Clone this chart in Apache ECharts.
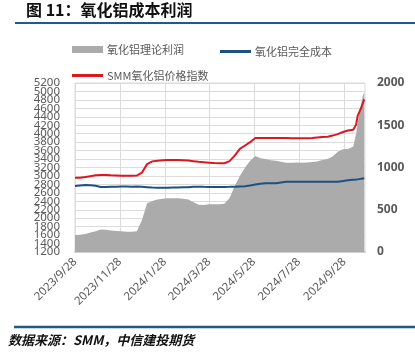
<!DOCTYPE html>
<html>
<head>
<meta charset="utf-8">
<script src="https://cdn.jsdelivr.net/npm/echarts@6/dist/echarts.min.js"></script>
<style>
  html, body { margin: 0; padding: 0; background: #fff; }
  #main { width: 415px; height: 353px; }
</style>
</head>
<body>
<div id="main"></div>
<script>
const dates = [
  '2023-09-28', '2023-10-05', '2023-10-12', '2023-10-19', '2023-10-26', '2023-11-02', '2023-11-09', '2023-11-16',
  '2023-11-23', '2023-11-30', '2023-12-07', '2023-12-14', '2023-12-21', '2023-12-28', '2024-01-04', '2024-01-11',
  '2024-01-18', '2024-01-25', '2024-02-01', '2024-02-08', '2024-02-15', '2024-02-22', '2024-02-29', '2024-03-07',
  '2024-03-14', '2024-03-21', '2024-03-28', '2024-04-04', '2024-04-11', '2024-04-18', '2024-04-25', '2024-05-02',
  '2024-05-09', '2024-05-16', '2024-05-23', '2024-05-30', '2024-06-06', '2024-06-13', '2024-06-20', '2024-06-27',
  '2024-07-04', '2024-07-11', '2024-07-18', '2024-07-25', '2024-08-01', '2024-08-08', '2024-08-15', '2024-08-22',
  '2024-08-29', '2024-09-05', '2024-09-12', '2024-09-19', '2024-09-26', '2024-10-03', '2024-10-10', '2024-10-14',
  '2024-10-16', '2024-10-18', '2024-10-21', '2024-10-23', '2024-10-25'
];
// SMM氧化铝价格指数 (左轴)
const price = [
  2955, 2960, 2975, 2995, 3015, 3025, 3025, 3015, 3010, 3005, 3005, 3005, 3010, 3080, 3280, 3345,
  3360, 3370, 3375, 3375, 3375, 3370, 3365, 3350, 3335, 3325, 3315, 3305, 3300, 3300, 3350, 3480,
  3640, 3720, 3800, 3900, 3900, 3900, 3900, 3898, 3897, 3897, 3895, 3895, 3895, 3895, 3900, 3910,
  3920, 3930, 3955, 3990, 4040, 4075, 4095, 4220, 4420, 4500, 4620, 4720, 4810
];
// 氧化铝完全成本 (左轴)
const cost = [
  2765, 2775, 2785, 2780, 2770, 2740, 2740, 2745, 2745, 2748, 2750, 2745, 2748, 2745, 2735, 2725,
  2722, 2722, 2722, 2725, 2725, 2730, 2730, 2745, 2745, 2742, 2740, 2740, 2740, 2740, 2742, 2745,
  2750, 2755, 2775, 2795, 2815, 2825, 2830, 2830, 2845, 2860, 2862, 2862, 2862, 2862, 2862, 2862,
  2862, 2862, 2862, 2862, 2880, 2900, 2910, 2915, 2920, 2925, 2935, 2940, 2945
];
// 氧化铝理论利润 (右轴)
const profit = [
  200, 205, 213, 230, 245, 265, 262, 255, 250, 245, 240, 240, 245, 380, 576, 605,
  620, 630, 635, 635, 635, 630, 622, 590, 560, 555, 565, 565, 565, 570, 640, 780,
  900, 1000, 1080, 1135, 1110, 1100, 1085, 1080, 1068, 1055, 1055, 1060, 1055, 1058, 1065, 1070,
  1090, 1100, 1130, 1185, 1215, 1220, 1250, 1400, 1520, 1640, 1760, 1850, 1890
];
const tickDates = ['2023-09-28', '2023-11-28', '2024-01-28', '2024-03-28', '2024-05-28', '2024-07-28', '2024-09-28'];
// left axis labels are packed so tight they overlap, so they are split over two stacked label sets
const leftTicksA = [1200, 1600, 2000, 2400, 2800, 3200, 3600, 4000, 4400, 4800, 5200];
const leftTicksB = [1400, 1800, 2200, 2600, 3000, 3400, 3800, 4200, 4600, 5000];
const startDate = '2023-09-28';
const endDate = '2024-10-26';

// x axis is "days since startDate", labels turned back into dates
const DAY = 86400000;
const toMs = (s) => { const p = s.split('-').map(Number); return Date.UTC(p[0], p[1] - 1, p[2]); };
const toDay = (s) => Math.round((toMs(s) - toMs(startDate)) / DAY);
const fmtDay = (v) => {
  const d = new Date(toMs(startDate) + v * DAY);
  return d.getUTCFullYear() + '/' + (d.getUTCMonth() + 1) + '/' + d.getUTCDate();
};
const pair = (arr) => dates.map((d, i) => [toDay(d), arr[i]]);
const tickDays = tickDates.map(toDay);
const gray = '#595959';
const plain = (v) => String(v);

const legendBase = (left, top, h, name) => ({
  left: left, top: top, padding: 0,
  itemWidth: 31, itemHeight: h,
  icon: 'rect',
  textStyle: { fontSize: 11, color: gray, fontFamily: 'Noto Sans CJK SC', padding: [0, 0, 0, -1] },
  data: [name]
});

const leftAxis = (ticks, split) => ({
  type: 'value',
  position: 'left',
  min: 1200, max: 5200, interval: 200,
  axisLine: { show: false },
  axisTick: { show: false },
  splitLine: { show: split, lineStyle: { color: '#dcdcdc', width: 1 } },
  axisLabel: { customValues: ticks, fontSize: 11.5, color: gray, margin: 15,
    showMinLabel: true, showMaxLabel: true, formatter: plain }
});

const chart = echarts.init(document.getElementById('main'), null, { renderer: 'canvas' });

const option = {
  animation: false,
  textStyle: { fontFamily: 'Noto Sans, Noto Sans CJK SC, sans-serif' },
  legend: [
    legendBase(72, 44, 7, '氧化铝理论利润'),
    legendBase(220, 46, 3, '氧化铝完全成本'),
    legendBase(72, 70, 3, 'SMM氧化铝价格指数')
  ],
  grid: { left: 75, right: 50, top: 83, bottom: 101, containLabel: false, outerBoundsMode: 'none',
    show: true, borderColor: '#d9d9d9', borderWidth: 1 },
  xAxis: {
    type: 'value',
    min: 0,
    max: toDay(endDate),
    axisLine: { show: true, onZero: false, lineStyle: { color: '#d0d0d0', width: 2 } },
    axisTick: { show: false, customValues: tickDays },
    splitLine: { show: true, lineStyle: { color: '#dcdcdc', width: 1 } },
    axisLabel: {
      customValues: tickDays,
      rotate: 45,
      margin: 8,
      fontSize: 11.5,
      color: gray,
      formatter: fmtDay
    }
  },
  yAxis: [
    leftAxis(leftTicksA, true),
    {
      type: 'value',
      position: 'right',
      min: 0, max: 2000, interval: 500,
      axisLine: { show: false },
      axisTick: { show: false },
      splitLine: { show: false },
      axisLabel: { fontSize: 12, color: gray, fontWeight: 'bold', margin: 12, align: 'left',
        showMinLabel: true, showMaxLabel: true, formatter: plain }
    },
    leftAxis(leftTicksB, false)
  ],
  series: [
    {
      name: '氧化铝理论利润',
      type: 'line',
      yAxisIndex: 1,
      data: pair(profit),
      symbol: 'none',
      lineStyle: { width: 0, color: '#ababab' },
      itemStyle: { color: '#ababab' },
      areaStyle: { color: '#ababab', opacity: 1 },
      z: 1
    },
    {
      name: '氧化铝完全成本',
      type: 'line',
      yAxisIndex: 0,
      data: pair(cost),
      symbol: 'none',
      lineStyle: { width: 2, color: '#1d5182' },
      itemStyle: { color: '#1d5182' },
      z: 3
    },
    {
      name: 'SMM氧化铝价格指数',
      type: 'line',
      yAxisIndex: 0,
      data: pair(price),
      symbol: 'none',
      lineStyle: { width: 2, color: '#dc1720' },
      itemStyle: { color: '#dc1720' },
      z: 4
    }
  ],
  graphic: [
    {
      type: 'text', left: 26, top: 2,
      style: { text: '图 11：氧化铝成本利润', font: 'bold 16px "Noto Sans CJK SC"', fill: '#111' }
    },
    {
      type: 'line', shape: { x1: 15, y1: 23, x2: 415, y2: 23 },
      style: { stroke: '#1f5a8a', lineWidth: 2 }
    },
    {
      type: 'line', shape: { x1: 14, y1: 327, x2: 415, y2: 327 },
      style: { stroke: '#1f5a8a', lineWidth: 2.5 }
    },
    {
      type: 'text', left: 8, top: 334,
      style: { text: '数据来源：SMM，中信建投期货', font: 'italic bold 13px "Noto Sans CJK SC"', fill: '#111' }
    }
  ]
};

chart.setOption(option);
</script>
</body>
</html>
